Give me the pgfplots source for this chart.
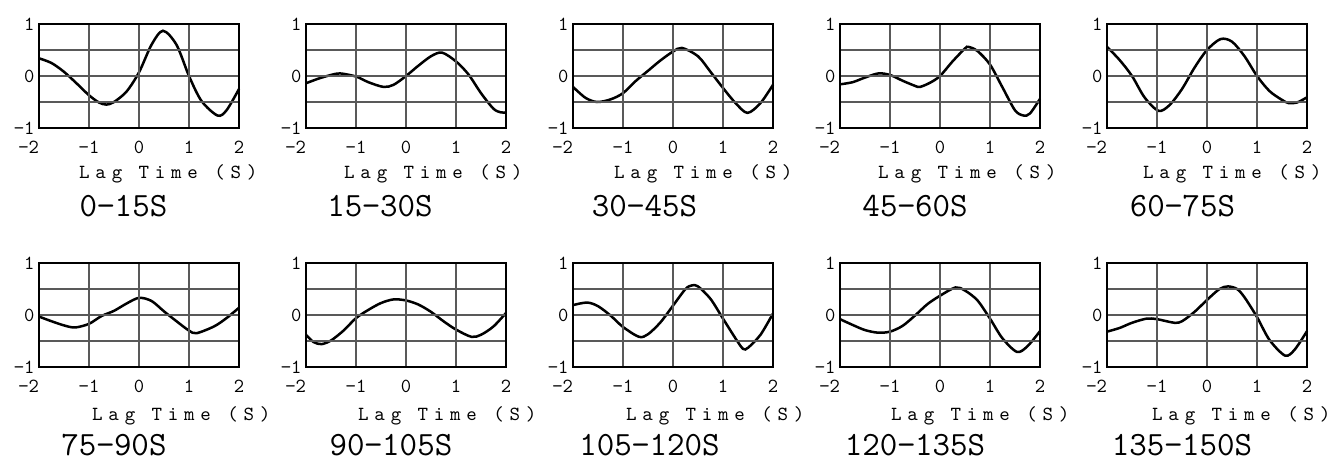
\documentclass[border=0pt]{standalone}
\usepackage{fontspec}
\usepackage{pgfplots}
\pgfplotsset{compat=1.18}
\newfontfamily\lblfont{lmmono10-regular.otf}[LetterSpace=29]
\newcommand\tickfont{\ttfamily\fontsize{20}{20}\selectfont}
\newcommand\xlabfont{\lblfont\fontsize{20}{20}\selectfont}
\newcommand\titfont{\ttfamily\fontsize{34}{34}\selectfont}
\pgfplotsset{panel/.style={
 scale only axis, width=200pt, height=104pt,
 xmin=-2,xmax=2,ymin=-1,ymax=1,
 xtick={-2,-1,0,1,2}, xticklabels={\makebox[0pt][r]{−2},−1,0,1,2},
 ytick={-1,-0.5,0,0.5,1}, yticklabels={−1,,0,,1},
 major tick length=0pt,
 grid=major, grid style={line width=1.1pt, color=black!65},
 axis line style={line width=2.7pt},
 tick label style={font=\tickfont},
 xticklabel style={anchor=base, yshift=-25.3pt},
 yticklabel style={xshift=-1pt},
 axis on top,
 clip=false,
 anchor=north west,
}}
\newcommand\panel[8]{%
\begin{axis}[panel, at={(#1pt,-#2pt)}]
\addplot[black, line width=2.5pt, smooth] coordinates {#3};
\node[font=\xlabfont, anchor=base west, inner sep=0pt, xshift=#6pt, yshift=-#7pt] at (rel axis cs:0,0) {Lag Time (S)};
\node[font=\titfont, anchor=base, inner sep=0pt, xshift=#5pt, yshift=-#8pt] at (rel axis cs:0,0) {#4};
\end{axis}}
\begin{document}
\begin{tikzpicture}
\path[use as bounding box] (0,0) rectangle (1328pt,-460pt);
\panel{39}{24}{(-2,0.34) (-1.75,0.25) (-1.5,0.08) (-1.25,-0.14) (-1,-0.37) (-0.8,-0.51) (-0.65,-0.55) (-0.5,-0.5) (-0.25,-0.3) (0,0.07) (0.25,0.6) (0.48,0.87) (0.75,0.6) (1,0.0) (1.25,-0.48) (1.57,-0.76) (1.75,-0.66) (2,-0.25)}{0−15S}{84.5}{40}{51}{88.7}
\panel{306}{24}{(-2,-0.14) (-1.75,-0.05) (-1.5,0.02) (-1.32,0.05) (-1,-0.01) (-0.75,-0.12) (-0.45,-0.21) (-0.25,-0.17) (0,0.0) (0.25,0.2) (0.5,0.38) (0.72,0.45) (1,0.28) (1.25,0.03) (1.5,-0.33) (1.75,-0.63) (1.9,-0.7) (2,-0.7)}{15−30S}{74}{38}{51}{88.7}
\panel{573}{24}{(-2,-0.21) (-1.75,-0.42) (-1.52,-0.5) (-1.25,-0.45) (-1,-0.33) (-0.75,-0.1) (-0.5,0.1) (-0.25,0.3) (0,0.47) (0.18,0.54) (0.5,0.38) (0.75,0.08) (1,-0.23) (1.25,-0.52) (1.49,-0.71) (1.75,-0.52) (2,-0.17)}{30−45S}{71.5}{41}{51}{88.7}
\panel{840}{24}{(-2,-0.16) (-1.75,-0.12) (-1.5,-0.03) (-1.23,0.05) (-1,0.02) (-0.75,-0.09) (-0.5,-0.19) (-0.4,-0.21) (-0.2,-0.13) (0,0.0) (0.25,0.28) (0.5,0.53) (0.57,0.56) (0.75,0.48) (1,0.22) (1.25,-0.22) (1.5,-0.66) (1.67,-0.76) (1.8,-0.72) (2,-0.44)}{45−60S}{75}{38}{51}{88.7}
\panel{1107}{24}{(-2,0.56) (-1.75,0.31) (-1.5,0.0) (-1.25,-0.41) (-0.97,-0.67) (-0.75,-0.56) (-0.5,-0.25) (-0.25,0.16) (0,0.5) (0.27,0.71) (0.5,0.66) (0.75,0.38) (1,0.0) (1.25,-0.29) (1.5,-0.46) (1.63,-0.52) (1.8,-0.51) (2,-0.41)}{60−75S}{75.5}{36}{51}{88.7}
\panel{39}{263}{(-2,-0.03) (-1.75,-0.12) (-1.5,-0.2) (-1.28,-0.24) (-1,-0.17) (-0.75,-0.02) (-0.5,0.08) (-0.25,0.22) (0,0.33) (0.25,0.27) (0.5,0.07) (0.75,-0.12) (1,-0.3) (1.15,-0.35) (1.5,-0.22) (1.75,-0.06) (2,0.14)}{75−90S}{75}{53}{53}{88}
\panel{306}{263}{(-2,-0.38) (-1.85,-0.52) (-1.69,-0.56) (-1.5,-0.49) (-1.25,-0.3) (-1,-0.06) (-0.75,0.1) (-0.5,0.23) (-0.25,0.3) (0,0.28) (0.25,0.2) (0.5,0.06) (0.75,-0.12) (1,-0.28) (1.31,-0.42) (1.5,-0.38) (1.75,-0.22) (2,0.04)}{90−105S}{85}{52}{53}{88}
\panel{573}{263}{(-2,0.19) (-1.72,0.24) (-1.5,0.17) (-1.25,-0.01) (-1,-0.23) (-0.68,-0.42) (-0.5,-0.37) (-0.25,-0.14) (0,0.18) (0.25,0.5) (0.38,0.57) (0.5,0.55) (0.75,0.31) (1,-0.07) (1.25,-0.45) (1.4,-0.65) (1.5,-0.63) (1.75,-0.38) (2,0.03)}{105−120S}{76.5}{53}{53}{88}
\panel{840}{263}{(-2,-0.08) (-1.75,-0.19) (-1.5,-0.29) (-1.24,-0.34) (-1,-0.32) (-0.75,-0.21) (-0.5,-0.01) (-0.25,0.21) (0,0.37) (0.31,0.53) (0.5,0.47) (0.75,0.28) (1,-0.07) (1.25,-0.45) (1.54,-0.71) (1.75,-0.6) (2,-0.31)}{120−135S}{75}{51}{53}{88}
\panel{1107}{263}{(-2,-0.32) (-1.75,-0.25) (-1.5,-0.15) (-1.21,-0.07) (-1,-0.08) (-0.65,-0.15) (-0.5,-0.12) (-0.25,0.06) (0,0.29) (0.25,0.5) (0.42,0.55) (0.6,0.5) (0.75,0.34) (1,-0.04) (1.25,-0.48) (1.56,-0.78) (1.75,-0.67) (2,-0.31)}{135−150S}{75}{45}{53}{88}
\end{tikzpicture}
\end{document}
